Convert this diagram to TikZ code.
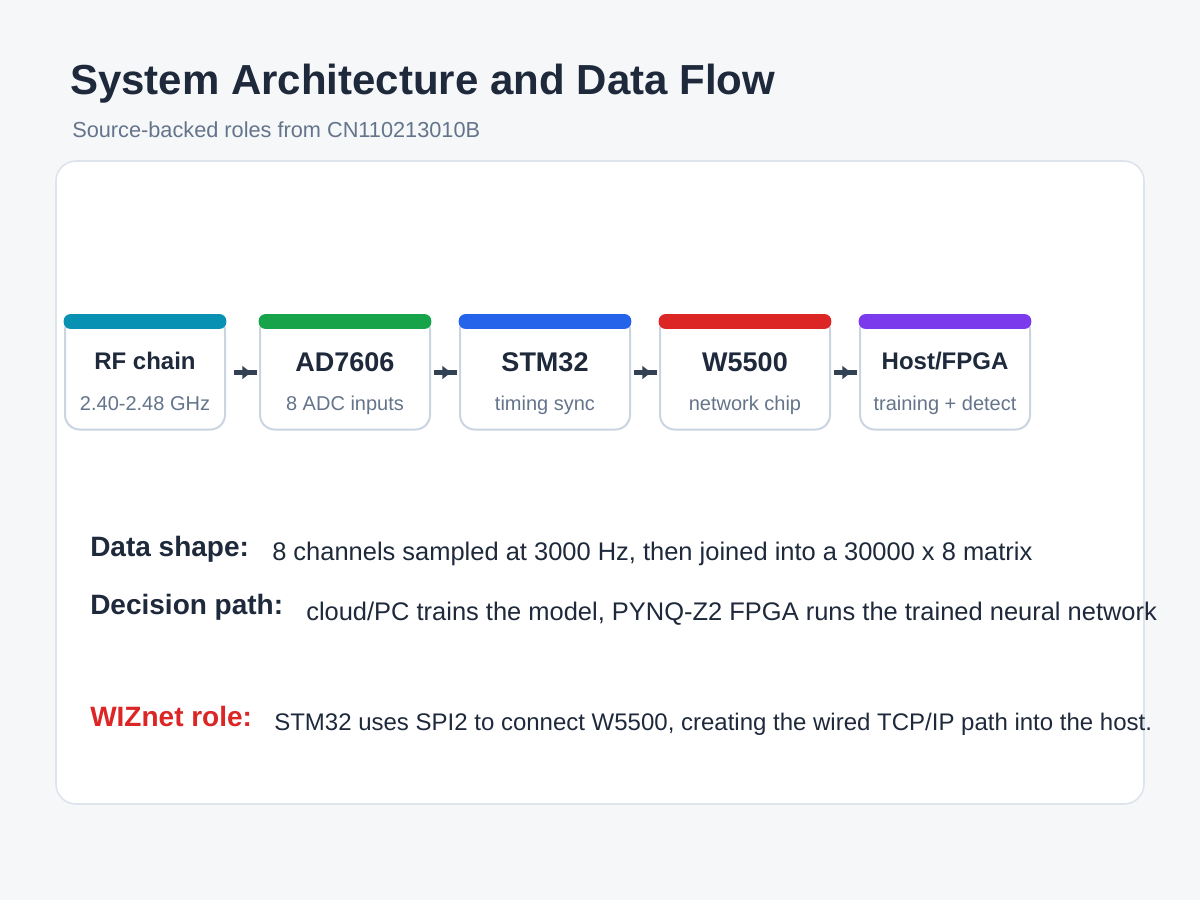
\documentclass[tikz,border=0pt]{standalone}
\usepackage{fontspec}
\setmainfont{Liberation Sans}
\usetikzlibrary{arrows.meta}
\definecolor{bgc}{HTML}{F6F7F9}
\definecolor{panelline}{HTML}{DEE4EC}
\definecolor{boxline}{HTML}{CBD5E1}
\definecolor{ink}{HTML}{1E293B}
\definecolor{muted}{HTML}{64748B}
\definecolor{arrowc}{HTML}{334155}
\definecolor{cCyan}{HTML}{0891B2}
\definecolor{cGreen}{HTML}{16A34A}
\definecolor{cBlue}{HTML}{2563EB}
\definecolor{cRed}{HTML}{DC2626}
\definecolor{cPurple}{HTML}{7C3AED}
\tikzset{
  stagebox/.style={draw=boxline, line width=1.5pt, fill=white, rounded corners=11pt,
    minimum height=85.5pt, minimum width=127.5pt, inner sep=0pt},
  bigt/.style={anchor=base, inner sep=0pt, text=ink, font=\fontsize{20.25}{24}\selectfont\bfseries},
  midt/.style={anchor=base, inner sep=0pt, text=ink, font=\fontsize{18}{22}\selectfont\bfseries},
  subt/.style={anchor=base, inner sep=0pt, text=muted, font=\fontsize{15}{18}\selectfont},
  lbl/.style={anchor=base west, inner sep=0pt, text=ink, font=\fontsize{21}{25}\selectfont\bfseries},
  body/.style={anchor=base west, inner sep=0pt, text=ink, font=\fontsize{19.1}{23}\selectfont},
  flow/.style={draw=arrowc, line width=3.6pt,
    -{Triangle[length=6.5pt,width=9.5pt] Rectangle[length=4.5pt,width=3.6pt]}},
}
\begin{document}
\begin{tikzpicture}[x=0.75pt,y=-0.75pt]
\useasboundingbox (0,0) rectangle (1200,900);
\fill[bgc] (0,0) rectangle (1200,900);
% panel
\draw[draw=panelline, line width=1.2pt, fill=white, rounded corners=15pt] (56,161) rectangle (1144,804);
% title
\node[anchor=base west, inner sep=0pt, text=ink, font=\fontsize{31.5}{36}\selectfont\bfseries] (title) at (70,94) {System Architecture and Data Flow};
\node[anchor=base west, inner sep=0pt, text=muted, font=\fontsize{16.3}{20}\selectfont] (subtitle) at (72,137) {Source-backed roles from CN110213010B};
% boxes
\node[stagebox, minimum width=120pt] (b1) at (145,372.5) {};
\node[stagebox] (b2) at (345,372.5) {};
\node[stagebox] (b3) at (545,372.5) {};
\node[stagebox] (b4) at (745,372.5) {};
\node[stagebox] (b5) at (945,372.5) {};
% colour bars
\foreach \b/\c in {b1/cCyan,b2/cGreen,b3/cBlue,b4/cRed,b5/cPurple}{
  \fill[\c, rounded corners=5pt] ([xshift=-0.2pt,yshift=0.3pt]\b.north west) rectangle ([xshift=0.2pt,yshift=-10.8pt]\b.north east);
}
% box texts
\node[midt] (t1) at (145,369.5) {RF chain};
\node[subt] (s1) at (145,410) {2.40-2.48 GHz};
\node[bigt] (t2) at (345,371) {AD7606};
\node[subt] (s2) at (345,410) {8 ADC inputs};
\node[bigt] (t3) at (545,371) {STM32};
\node[subt] (s3) at (545,410) {timing sync};
\node[bigt] (t4) at (745,371) {W5500};
\node[subt] (s4) at (745,410) {network chip};
\node[midt] (t5) at (945,369.5) {Host/FPGA};
\node[subt] (s5) at (945,410) {training + detect};
% arrows
\draw[flow] ([xshift=6pt]b1.east) -- ([xshift=-1.5pt]b2.west);
\draw[flow] ([xshift=2.25pt]b2.east) -- ([xshift=-1.5pt]b3.west);
\draw[flow] ([xshift=2.25pt]b3.east) -- ([xshift=-1.5pt]b4.west);
\draw[flow] ([xshift=2.25pt]b4.east) -- ([xshift=-1.5pt]b5.west);
% notes
\node[lbl] (l1) at (90,556) {Data shape:};
\node[body] (d1) at (272,560) {8 channels sampled at 3000 Hz, then joined into a 30000 x 8 matrix};
\node[lbl] (l2) at (90,614) {Decision path:};
\node[body] (d2) at (306,620) {cloud/PC trains the model, PYNQ-Z2 FPGA runs the trained neural network};
\node[lbl, text=cRed] (l3) at (90,726) {WIZnet role:};
\node[body, font=\fontsize{18}{22}\selectfont] (d3) at (274,730) {STM32 uses SPI2 to connect W5500, creating the wired TCP/IP path into the host.};
\end{tikzpicture}
\end{document}
